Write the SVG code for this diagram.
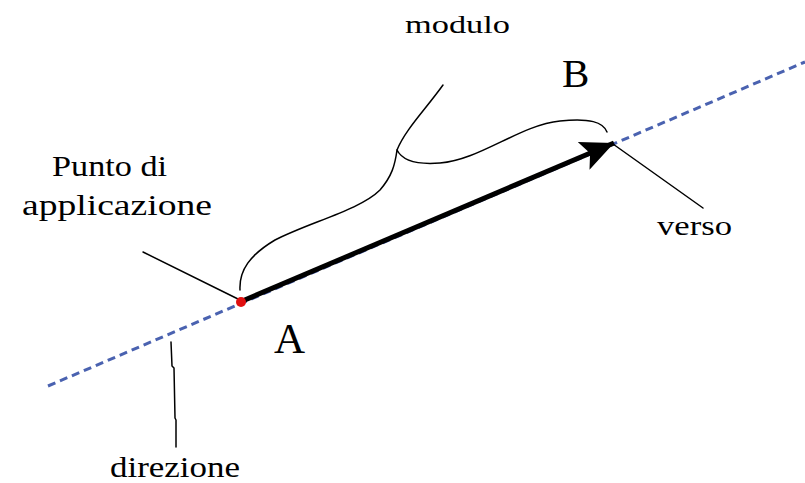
<svg xmlns="http://www.w3.org/2000/svg" width="805" height="483" viewBox="0 0 805 483">
<defs>
<style>
.lbl{font-family:"Liberation Serif","DejaVu Serif",serif;fill:#000}
.thin{fill:none;stroke:#000;stroke-width:1.5;stroke-linecap:round;stroke-linejoin:round}
</style>
<marker id="head" markerUnits="userSpaceOnUse" markerWidth="36" markerHeight="34" refX="33" refY="17" orient="auto">
<path d="M0,2 L33,17 L0,32 L7,17 Z" fill="#000"/>
</marker>
</defs>
<rect width="805" height="483" fill="#fff"/>
<g id="connectors">
<line id="direction-line" x1="48" y1="386" x2="805" y2="62" stroke="#4a62b0" stroke-width="3" stroke-dasharray="8,5"/>
<line id="vector" x1="240" y1="302" x2="614" y2="143" stroke="#000" stroke-width="5" marker-end="url(#head)"/>
<path id="brace-modulo" class="thin" d="M240,290 C239,270 250,255 275,240 C310,222 360,210 380,190 C392,176 395,165 397,150 C402,160 415,165 440,163 C480,160 520,125 560,121 C590,118 603,122 607,132"/>
<path class="thin" d="M397,150 C405,130 425,110 443,85"/>
<line class="thin" x1="143" y1="252" x2="238" y2="299"/>
<line class="thin" x1="613" y1="144" x2="703" y2="208"/>
<polyline class="thin" points="171,342 172,366 174,368 175,418 176,420 176,447"/>
</g>
<g id="point-A-dot"><circle cx="241" cy="302" r="5" fill="#e01010"/></g>
<g id="label-modulo"><text class="lbl" x="405" y="33" font-size="26" textLength="105" lengthAdjust="spacingAndGlyphs">modulo</text></g>
<g id="label-B"><text class="lbl" x="562" y="87" font-size="41">B</text></g>
<g id="label-A"><text class="lbl" x="274" y="353" font-size="43">A</text></g>
<g id="label-punto"><text class="lbl" x="52" y="176" font-size="30" textLength="115" lengthAdjust="spacingAndGlyphs">Punto di</text>
<text class="lbl" x="22" y="215" font-size="30" textLength="190" lengthAdjust="spacingAndGlyphs">applicazione</text></g>
<g id="label-verso"><text class="lbl" x="657" y="235" font-size="28" textLength="75" lengthAdjust="spacingAndGlyphs">verso</text></g>
<g id="label-direzione"><text class="lbl" x="110" y="477" font-size="30" textLength="130" lengthAdjust="spacingAndGlyphs">direzione</text></g>
</svg>
